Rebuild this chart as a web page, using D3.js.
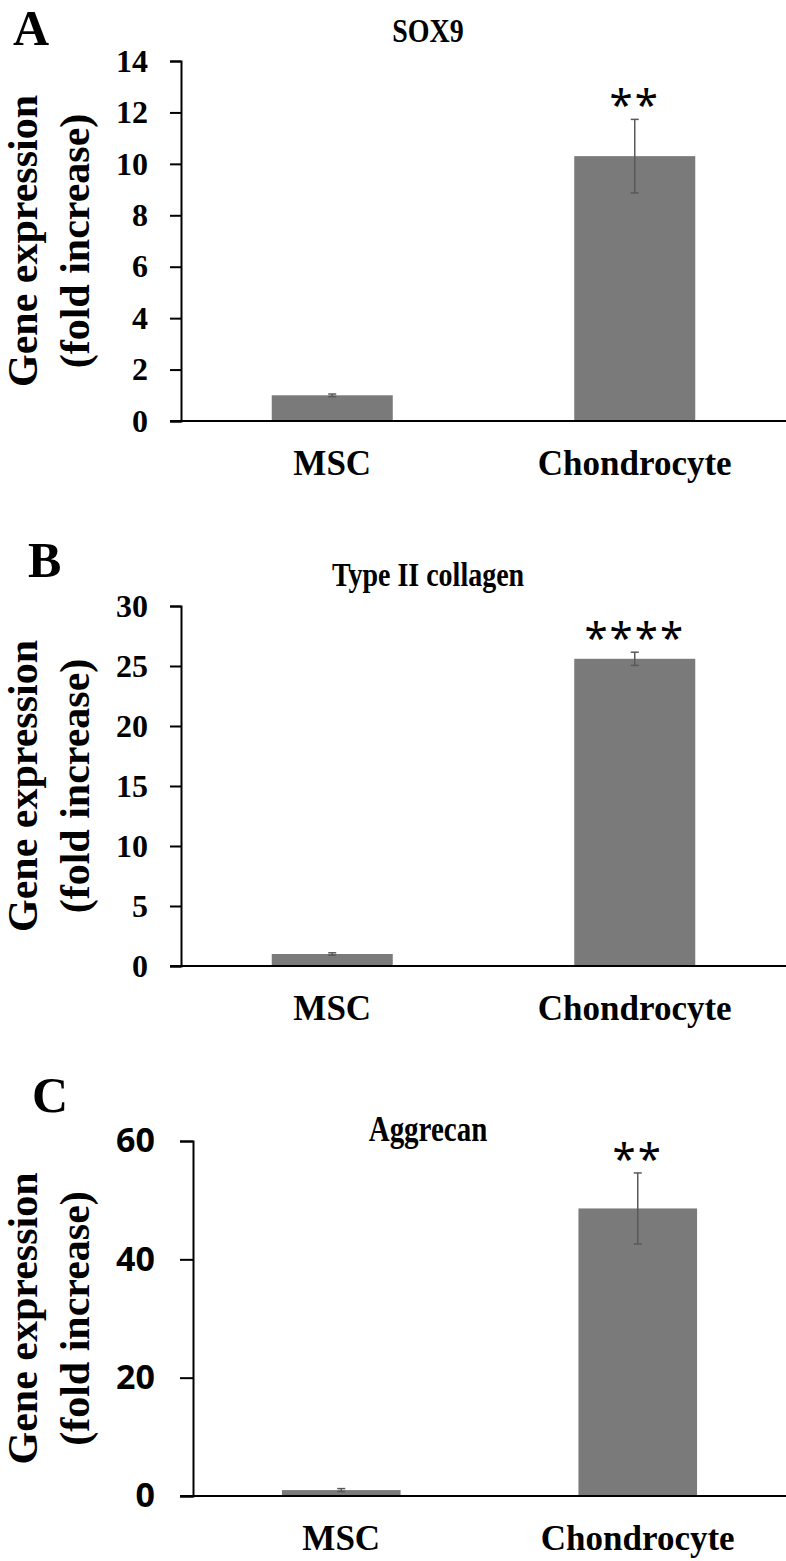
<!DOCTYPE html>
<html>
<head>
  <meta charset="utf-8">
  <title>Gene expression</title>
  <script src="https://d3js.org/d3.v7.min.js"></script>
  <style>
    body { margin: 0; background: #fff; }
    .serif { font-family: "Liberation Serif", "Times New Roman", serif; font-weight: bold; }
    .axis .domain, .axis line { stroke: #000; stroke-width: 2px; }
  </style>
</head>
<body>
<svg id="chart" width="786" height="1561"></svg>
<script>
  // data
  const categories = ["MSC", "Chondrocyte"];
  const panelLetters = ["A", "B", "C"];
  const titles = ["SOX9", "Type II collagen", "Aggrecan"];

  const sox9Means = [1.0, 10.3];
  const sox9Errors = [0.05, 1.43];
  const col2Means = [1.0, 25.6];
  const col2Errors = [0.1, 0.55];
  const aggMeans = [1.0, 48.6];
  const aggErrors = [0.25, 6.0];

  const sox9Stars = ["", "**"];
  const col2Stars = ["", "****"];
  const aggStars = ["", "**"];

  const sox9Ticks = [0, 2, 4, 6, 8, 10, 12, 14];
  const col2Ticks = [0, 5, 10, 15, 20, 25, 30];
  const aggTicks = [0, 20, 40, 60];

  const svg = d3.select("#chart");
  const W = +svg.attr("width");

  // layout of each panel (pixels)
  const panels = [
    { letter: panelLetters[0], title: titles[0], means: sox9Means, errors: sox9Errors, stars: sox9Stars, ticks: sox9Ticks,
      x0: 181, top: 61, bottom: 421, letterX: 13, letterY: 45, titleY: 42, titleSize: 28, tick: 11, pad: 22, tickFont: "serif" },
    { letter: panelLetters[1], title: titles[1], means: col2Means, errors: col2Errors, stars: col2Stars, ticks: col2Ticks,
      x0: 181, top: 606, bottom: 966, letterX: 28, letterY: 577, titleY: 586, titleSize: 28, tick: 11, pad: 22, tickFont: "serif" },
    { letter: panelLetters[2], title: titles[2], means: aggMeans, errors: aggErrors, stars: aggStars, ticks: aggTicks,
      x0: 193, top: 1141, bottom: 1496, letterX: 32, letterY: 1112, titleY: 1141, titleSize: 29, tick: 13, pad: 25, tickFont: "sans" }
  ];

  panels.forEach(p => {
    const g = svg.append("g");

    const x = d3.scaleBand().domain(categories).range([p.x0, W]).padding(0);
    const y = d3.scaleLinear().domain([0, d3.max(p.ticks)]).range([p.bottom, p.top]);
    const barW = x.bandwidth() * 0.4;

    // panel letter and title
    g.append("text").attr("class", "serif")
      .attr("x", p.letterX).attr("y", p.letterY)
      .style("font-size", "50px").text(p.letter);

    g.append("text").attr("class", "serif")
      .attr("transform", `translate(428,${p.titleY}) scale(1,1.2)`)
      .attr("text-anchor", "middle")
      .style("font-size", p.titleSize + "px").text(p.title);

    // y axis label, two lines
    const cy = (p.top + p.bottom) / 2;
    g.append("text").attr("class", "serif")
      .attr("transform", `translate(37,${cy}) rotate(-90)`)
      .attr("text-anchor", "middle")
      .style("font-size", "42px").text("Gene expression");
    g.append("text").attr("class", "serif")
      .attr("transform", `translate(89,${cy}) rotate(-90)`)
      .attr("text-anchor", "middle")
      .style("font-size", "42px").text("(fold increase)");

    // bars
    g.selectAll("rect.bar").data(categories)
      .join("rect")
      .attr("class", "bar")
      .attr("x", (d) => x(d) + (x.bandwidth() - barW) / 2)
      .attr("width", barW)
      .attr("y", (d, i) => y(p.means[i]))
      .attr("height", (d, i) => y(0) - y(p.means[i]))
      .attr("fill", "#7a7a7a");

    // error bars
    const err = g.selectAll("g.err").data(categories)
      .join("g").attr("class", "err")
      .attr("stroke", "#595959").attr("stroke-width", 1.5);
    err.append("line")
      .attr("x1", d => x(d) + x.bandwidth() / 2).attr("x2", d => x(d) + x.bandwidth() / 2)
      .attr("y1", (d, i) => y(p.means[i] + p.errors[i]))
      .attr("y2", (d, i) => y(p.means[i] - p.errors[i]));
    err.append("line")
      .attr("x1", d => x(d) + x.bandwidth() / 2 - 4).attr("x2", d => x(d) + x.bandwidth() / 2 + 4)
      .attr("y1", (d, i) => y(p.means[i] + p.errors[i]))
      .attr("y2", (d, i) => y(p.means[i] + p.errors[i]));
    err.append("line")
      .attr("x1", d => x(d) + x.bandwidth() / 2 - 4).attr("x2", d => x(d) + x.bandwidth() / 2 + 4)
      .attr("y1", (d, i) => y(p.means[i] - p.errors[i]))
      .attr("y2", (d, i) => y(p.means[i] - p.errors[i]));

    // significance stars
    g.selectAll("text.star").data(categories)
      .join("text")
      .attr("class", "star")
      .attr("x", d => x(d) + x.bandwidth() / 2)
      .attr("y", (d, i) => y(p.means[i] + p.errors[i]))
      .attr("dy", "0.02em")
      .attr("text-anchor", "middle")
      .style("font-family", "'Noto Sans', sans-serif")
      .style("font-size", "42px")
      .style("letter-spacing", "2px")
      .text((d, i) => p.stars[i]);

    // y axis
    const yAxis = d3.axisLeft(y).tickValues(p.ticks).tickSizeInner(p.tick).tickSizeOuter(p.tick).tickPadding(p.pad);
    const ya = g.append("g").attr("class", "axis")
      .attr("transform", `translate(${p.x0},0)`)
      .call(yAxis);
    ya.selectAll(".tick text")
      .attr("class", p.tickFont === "serif" ? "serif" : null)
      .style("font-family", p.tickFont === "serif" ? null : "'Noto Sans', sans-serif")
      .style("font-weight", "bold")
      .style("font-size", p.tickFont === "serif" ? "32px" : "34px")
      .attr("fill", "#000");

    // x axis
    const xAxis = d3.axisBottom(x).tickSize(0).tickPadding(0);
    const xa = g.append("g").attr("class", "axis")
      .attr("transform", `translate(0,${p.bottom})`)
      .call(xAxis);
    xa.select(".domain").attr("d", `M${p.x0 - p.tick},0H${W}`);
    xa.selectAll(".tick text")
      .attr("class", "serif")
      .attr("y", 54).attr("dy", 0)
      .style("font-size", "35px")
      .attr("fill", "#000");
  });
</script>
</body>
</html>
